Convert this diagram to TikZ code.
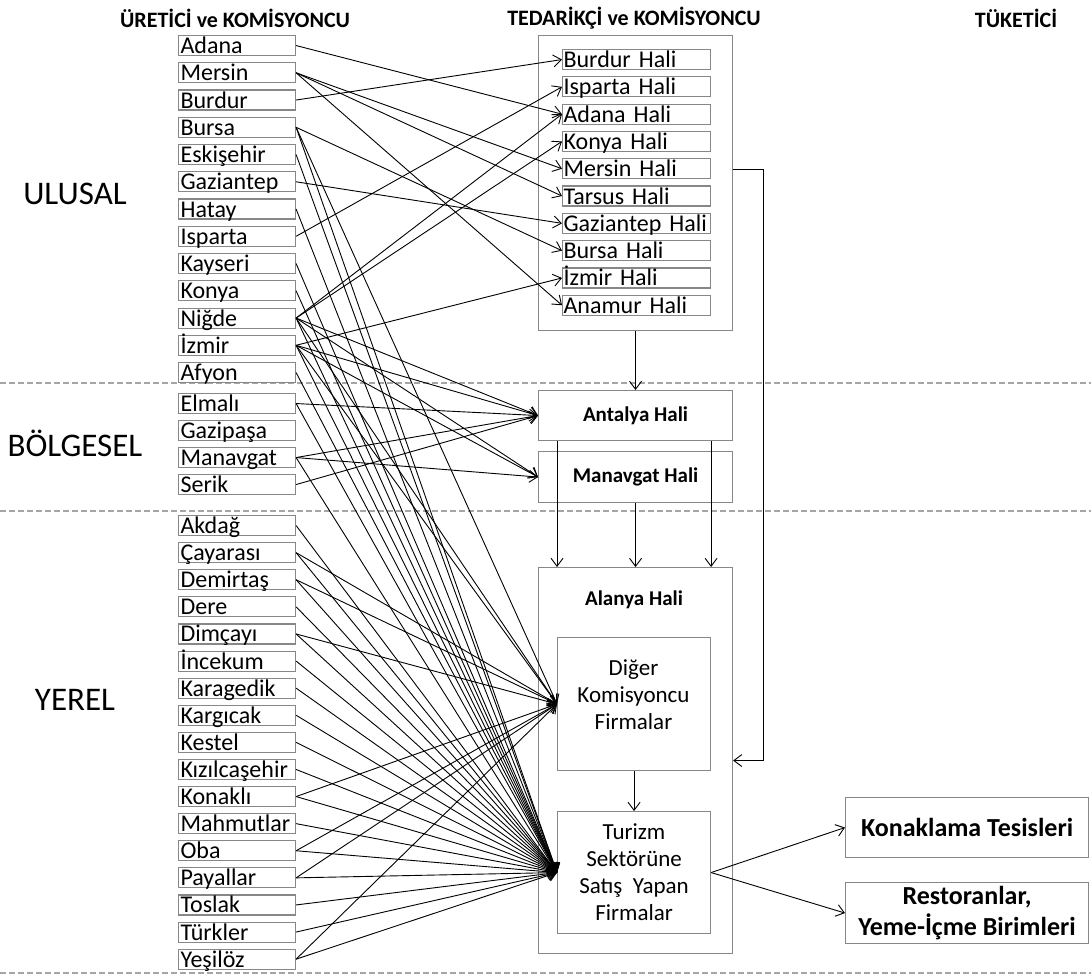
\documentclass[tikz,border=0pt]{standalone}
\usepackage{fontspec}
\setmainfont{Carlito}
\usetikzlibrary{arrows.meta}
\definecolor{boxgray}{RGB}{135,135,135}
\definecolor{dashgray}{RGB}{165,165,165}
\begin{document}
\begin{tikzpicture}[x=1pt,y=-1pt,
  lbox/.style={draw=boxgray, line width=1.1pt, anchor=north west, text width=113pt, align=left,
    inner xsep=2pt, inner ysep=1pt, text height=17pt, text depth=1pt, font=\fontsize{24}{26}\selectfont},
  hbox/.style={lbox, text width=146pt, inner xsep=1pt},
  frame/.style={draw=boxgray, line width=1.1pt, anchor=north west, inner sep=0pt},
  ttl/.style={font=\bfseries\fontsize{22}{24}\selectfont},
  sect/.style={font=\fontsize{33}{35}\selectfont},
  btxt/.style={font=\bfseries\fontsize{21}{23}\selectfont},
  itxt/.style={align=center, font=\fontsize{23}{27}\selectfont},
  ctxt/.style={align=center, font=\bfseries\fontsize{26}{31}\selectfont},
  arr/.style={-{Straight Barb[length=8pt,width=12pt]}, line width=0.9pt, black},
  sep/.style={dashgray, line width=1.2pt, dash pattern=on 6pt off 3pt}
]
\useasboundingbox (0,0) rectangle (1091,976);

% titles
\node[ttl] (t1) at (235,18) {ÜRETİCİ ve KOMİSYONCU};
\node[ttl] (t2) at (634,18) {TEDARİKÇİ ve KOMİSYONCU};
\node[ttl] (t3) at (1016,18) {TÜKETİCİ};

% section labels
\node[sect] (s1) at (75,194) {ULUSAL};
\node[sect] (s2) at (75,443) {BÖLGESEL};
\node[sect] (s3) at (75,700) {YEREL};

% separators
\draw[sep] (0,383) -- (1091,383);
\draw[sep] (0,511) -- (1091,511);
\draw[sep] (0,973) -- (1091,973);

% left column
\foreach \nm/\tx [count=\i from 0] in {adana/Adana, mersin/Mersin, burdur/Burdur, bursa/Bursa,
   eskisehir/Eskişehir, gaziantep/Gaziantep, hatay/Hatay, isparta/Isparta, kayseri/Kayseri,
   konya/Konya, nigde/Niğde, izmir/İzmir, afyon/Afyon}
  \node[lbox] (\nm) at (178,{35+27.25*\i}) {\tx};
\foreach \nm/\tx [count=\i from 0] in {elmali/Elmalı, gazipasa/Gazipaşa, manavgat/Manavgat, serik/Serik}
  \node[lbox] (\nm) at (178,{393+27*\i}) {\tx};
\foreach \nm/\tx [count=\i from 0] in {akdag/Akdağ, cayarasi/Çayarası, demirtas/Demirtaş, dere/Dere,
   dimcayi/Dimçayı, incekum/İncekum, karagedik/Karagedik, kargicak/Kargıcak, kestel/Kestel,
   kizilcasehir/Kızılcaşehir, konakli/Konaklı, mahmutlar/Mahmutlar, oba/Oba, payallar/Payallar,
   toslak/Toslak, turkler/Türkler, yesiloz/Yeşilöz}
  \node[lbox] (\nm) at (178,{515+27.1*\i}) {\tx};

% middle column
\node[frame, minimum width=194pt, minimum height=295pt] (topbox) at (538,35) {};
\foreach \nm/\tx [count=\i from 0] in {hburdur/Burdur Hali, hisparta/Isparta Hali, hadana/Adana Hali,
   hkonya/Konya Hali, hmersin/Mersin Hali, htarsus/Tarsus Hali, hgaziantep/Gaziantep Hali,
   hbursa/Bursa Hali, hizmir/İzmir Hali, hanamur/Anamur Hali}
  \node[hbox] (\nm) at (562,{49+27.3*\i}) {\tx};

\node[frame, minimum width=194pt, minimum height=50pt, btxt] (antalya) at (538,390) {Antalya Hali};
\node[frame, minimum width=194pt, minimum height=51pt, btxt] (manhali) at (538,451) {Manavgat Hali};
\node[frame, minimum width=194pt, minimum height=386pt] (alanya) at (538,567) {};
\node[btxt] (alanyat) at (634,600) {Alanya Hali};
\node[frame, minimum width=153pt, minimum height=133pt] (diger) at (557,637) {};
\node[itxt] (digert) at (633.5,695) {Diğer\\Komisyoncu\\Firmalar};
\node[frame, minimum width=153pt, minimum height=122pt, itxt] (turizm) at (557,811)
  {Turizm\\Sektörüne\\Satış\ \ Yapan\\Firmalar};

% consumers
\node[frame, minimum width=243pt, minimum height=60pt, ctxt] (konak) at (845,797) {Konaklama Tesisleri};
\node[frame, minimum width=243pt, minimum height=61pt, ctxt] (resto) at (845,882) {Restoranlar,\\Yeme-İçme Birimleri};

% producer -> wholesale markets
\foreach \a/\b in {adana/hadana, mersin/hmersin, mersin/htarsus, mersin/hanamur, burdur/hburdur,
   bursa/hbursa, gaziantep/hgaziantep, isparta/hisparta, nigde/hadana, nigde/hkonya, izmir/hizmir}
  \draw[arr] (\a.east) -- (\b.west);

% -> Antalya / Manavgat Hali
\foreach \a in {nigde, izmir, elmali, manavgat, serik}
  \draw[arr] (\a.east) -- (antalya.west);
\foreach \a in {nigde, izmir, manavgat}
  \draw[arr] (\a.east) -- (manhali.west);

% -> Diğer Komisyoncu Firmalar
\foreach \a in {bursa, nigde, izmir, cayarasi, demirtas, dimcayi, konakli, oba, payallar, yesiloz}
  \draw[arr] (\a.east) -- (diger.west);

% -> Turizm Sektörüne Satış Yapan Firmalar
\foreach \a in {bursa, eskisehir, hatay, kayseri, konya, nigde, izmir, afyon, elmali, manavgat,
   akdag, cayarasi, demirtas, dere, dimcayi, incekum, karagedik, kargicak, kestel, kizilcasehir,
   konakli, mahmutlar, oba, payallar, toslak, turkler, yesiloz}
  \draw[arr] (\a.east) -- (turizm.west);

% flows between markets
\draw[arr] (topbox.south) -- (antalya.north);
\draw[arr] ([xshift=19pt]antalya.south west) -- ([xshift=19pt]alanya.north west);
\draw[arr] ([xshift=-22pt]antalya.south east) -- ([xshift=-22pt]alanya.north east);
\draw[arr] (manhali.south) -- (alanya.north);
\draw[arr] ([yshift=13.5pt]topbox.east) -- ++(30,0) |- (alanya.east);
\draw[arr] (diger.south) -- (turizm.north);
\draw[arr] (turizm.east) -- (konak.west);
\draw[arr] (turizm.east) -- (resto.west);
\end{tikzpicture}
\end{document}
